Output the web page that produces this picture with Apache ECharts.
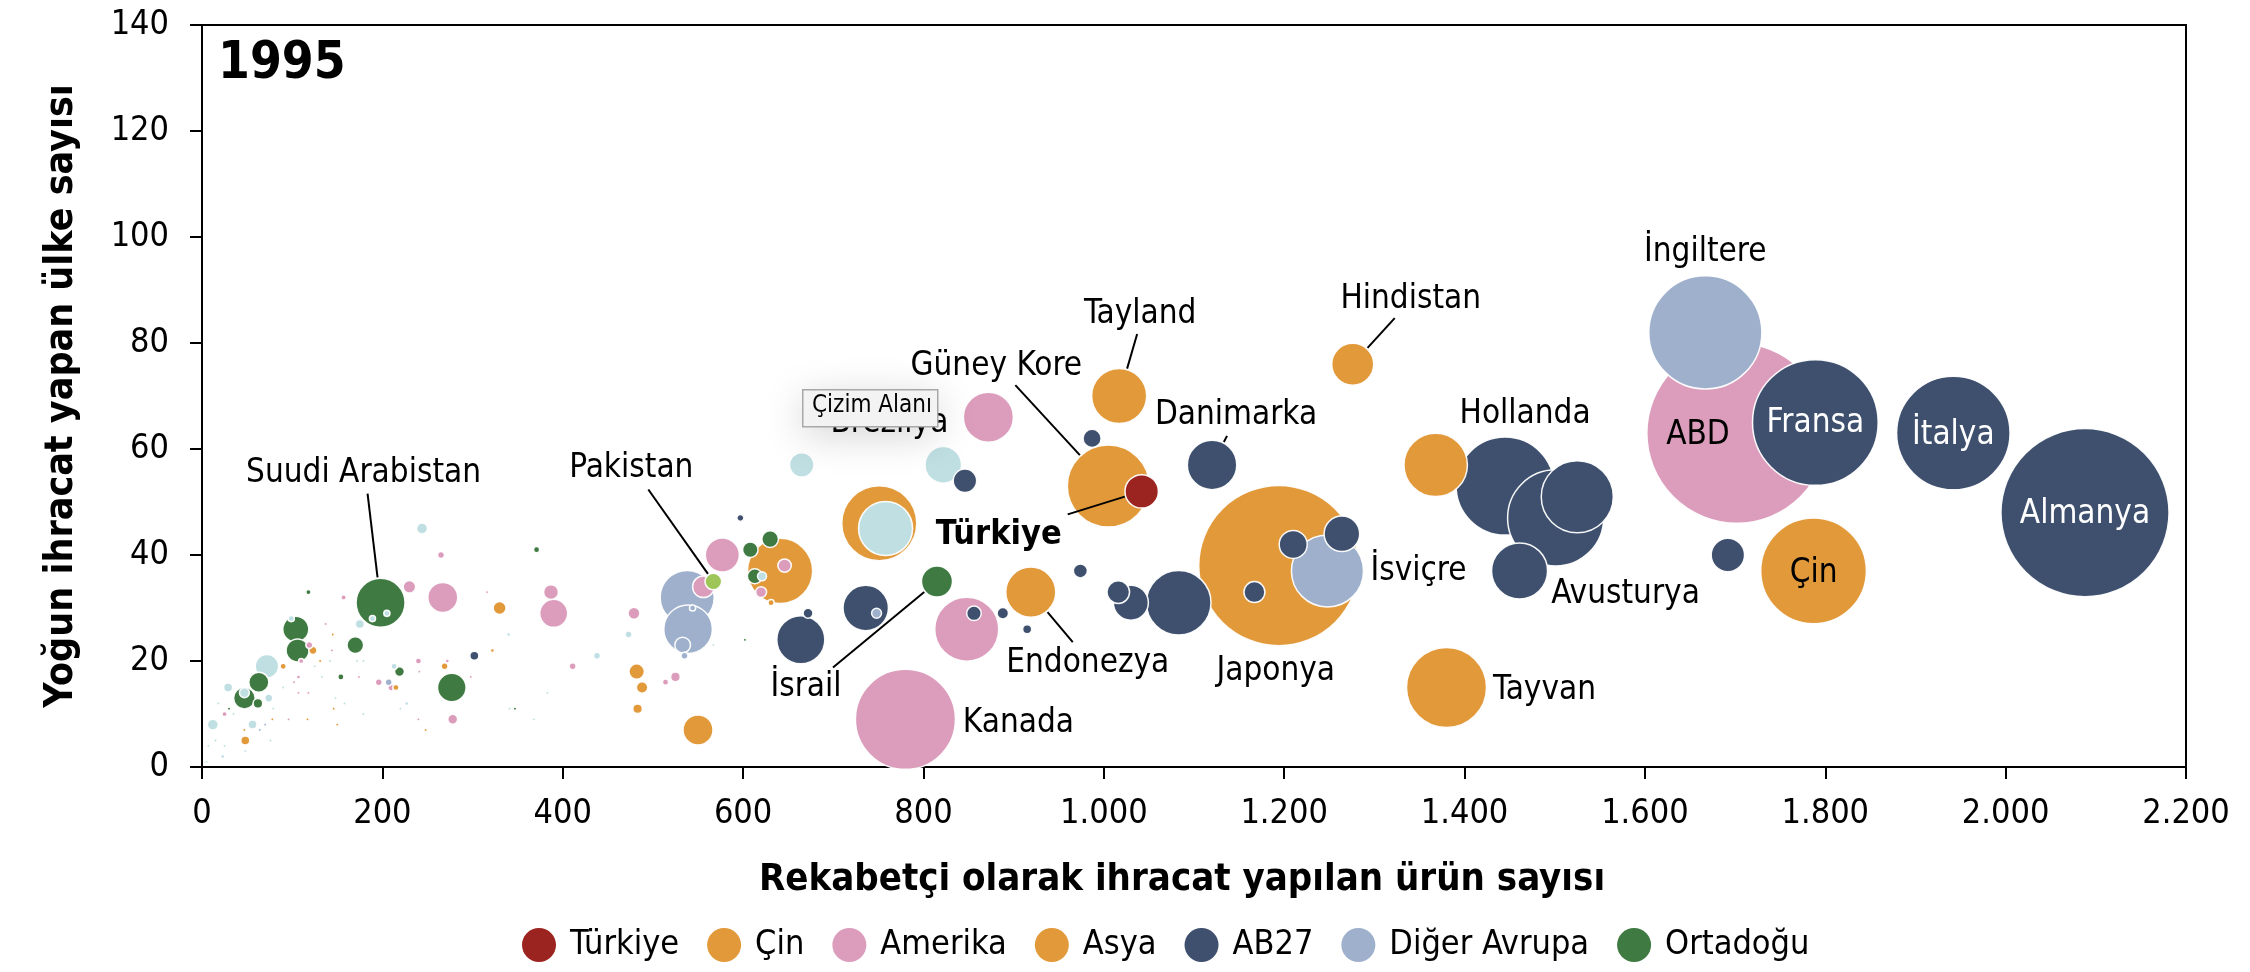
<!DOCTYPE html>
<html>
<head>
<meta charset="utf-8">
<script src="https://cdn.jsdelivr.net/npm/echarts@6/dist/echarts.min.js"></script>
<style>
  html, body { margin: 0; padding: 0; background: #fff; }
  #main { width: 2250px; height: 972px; }
</style>
</head>
<body>
<div id="main"></div>
<script>
// each point: [urun sayisi, ulke sayisi, ihracat (mlr $), etiket]
var turkiye = [[1042, 52, 20.5, 'Türkiye']];

var cin = [[1787, 37, 205, 'Çin']];

var asya = [
    [1005, 53, 123.6, 'Güney Kore'], [1017, 70, 55.6, 'Tayland'], [1276, 76, 32.4, 'Hindistan'],
    [1194, 38, 470.6, 'Japonya'], [1380, 15, 117.6, 'Tayvan'], [919, 33, 46, 'Endonezya'],
    [1368, 57, 73.9], [751, 46, 103.4], [641, 37, 78], [550, 7, 16.5], [482, 18, 4.4],
    [488, 15, 2.4], [483, 11, 1.7], [631, 31, 0.7], [330, 30, 3.1], [48, 5, 1.5],
    [269, 19, 0.9], [123, 22, 1.2], [90, 19, 0.7], [215, 15, 0.7], [322, 22, 0.3],
    [145, 25, 0.2], [131, 20, 0.2], [248, 7, 0.2], [150, 8, 0.2], [117, 9, 0.2],
    [78, 9, 0.2], [47, 7, 0.2], [146, 11, 0.2]
];

var amerika = [
    [1702, 63, 595.6, 'ABD'], [780, 9, 183.8, 'Kanada'], [872, 66, 46, 'Brezilya'],
    [848, 26, 75.3], [577, 40, 21.3], [556, 34, 8.6], [646, 38, 3.3], [620, 33, 2.2],
    [267, 32, 16.5], [390, 29, 14.4], [387, 33, 4.1], [230, 34, 2.9], [265, 40, 0.9],
    [479, 29, 2.6], [411, 19, 0.9], [525, 17, 1.7], [514, 16, 0.7], [278, 9, 1.8],
    [157, 32, 0.5], [119, 23, 0.9], [196, 16, 0.9], [210, 15, 0.9], [240, 20, 0.7],
    [110, 20, 0.5], [107, 17, 0.3], [25, 10, 0.5], [272, 20, 0.3], [316, 33, 0.2],
    [137, 27, 0.2], [144, 22, 0.2], [174, 17, 0.2], [241, 18, 0.2], [298, 17, 0.2],
    [240, 9, 0.2], [96, 9, 0.2], [107, 14, 0.2], [118, 14, 0.2], [102, 16, 0.2]
];

var ab27 = [
    [2088, 48, 518.8, 'Almanya'], [1789, 65, 290, 'Fransa'], [1942, 63, 236.4, 'İtalya'],
    [1445, 53, 176.5, 'Hollanda'], [1501, 47, 169.4], [1525, 51, 95.3],
    [1461, 37, 57.6, 'Avusturya'], [1120, 57, 44.9, 'Danimarka'], [1692, 40, 20.5],
    [1083, 31, 76.7], [1030, 31, 22.5], [1016, 33, 9.4], [1264, 44, 23.3], [1210, 42, 14.4],
    [1167, 33, 8.1], [987, 62, 6], [846, 54, 10.1], [736, 30, 37.9], [664, 24, 42.4],
    [672, 29, 1.8], [856, 29, 3.9], [888, 29, 2.4], [915, 26, 1.5], [974, 37, 3.6],
    [597, 47, 0.9], [302, 21, 1.5]
];

var digerAvrupa = [
    [1667, 82, 234.7, 'İngiltere'], [1248, 37, 95.3, 'İsviçre'], [538, 32, 53.6],
    [539, 26, 43.4], [533, 23, 4.5], [535, 21, 0.9], [748, 29, 1.8], [544, 30, 0.7],
    [207, 16, 0.9], [70, 8, 0.2], [64, 7, 0.2]
];

var ortadogu = [
    [198, 31, 44.1, 'Suudi Arabistan'], [815, 35, 17.7, 'İsrail'], [277, 15, 15],
    [104, 26, 12.4], [106, 22, 9.7], [63, 16, 7.4], [47, 13, 8.6], [62, 12, 1.7],
    [170, 23, 5.1], [630, 43, 5.1], [608, 41, 4.4], [613, 36, 4.1], [219, 18, 1.8],
    [154, 17, 0.7], [118, 33, 0.5], [371, 41, 0.7], [347, 11, 0.2], [30, 11, 0.2],
    [602, 24, 0.2]
];

var pakistan = [[567, 35, 5.1, 'Pakistan']];

var diger = [
    [758, 45, 53.6], [822, 57, 24.6], [665, 57, 10.9], [621, 36, 1.5], [72, 19, 10.1],
    [244, 45, 2.2], [175, 27, 1.5], [29, 15, 1.5], [74, 13, 1.2], [12, 8, 2.2],
    [56, 8, 1.5], [99, 28, 0.7], [473, 25, 0.9], [438, 21, 0.9], [213, 19, 0.7],
    [340, 25, 0.3], [19, 12, 0.3], [227, 12, 0.3], [47, 14, 1.8], [189, 28, 0.7],
    [205, 29, 0.7], [5, 1, 0.2], [23, 2, 0.3], [142, 20, 0.2], [172, 20, 0.2],
    [179, 20, 0.2], [125, 19, 0.2], [133, 17, 0.2], [383, 14, 0.2], [368, 9, 0.2],
    [341, 11, 0.2], [220, 11, 0.2], [179, 10, 0.2], [15, 5, 0.2], [25, 4, 0.2],
    [48, 3, 0.2], [76, 5, 0.2], [148, 13, 0.2], [158, 12, 0.2], [90, 15, 0.2],
    [79, 11, 0.2], [35, 10, 0.2], [18, 12, 0.2], [7, 4, 0.2], [567, 23, 0.2]
];

var legendNames = ['Türkiye', 'Çin', 'Amerika', 'Asya', 'AB27', 'Diğer Avrupa', 'Ortadoğu'];
var xTicks = [0, 200, 400, 600, 800, 1000, 1200, 1400, 1600, 1800, 2000, 2200];
var yTicks = [0, 20, 40, 60, 80, 100, 120, 140];

var groups = [
    { name: 'Türkiye', color: '#9c2420', data: turkiye },
    { name: 'Çin', color: '#e2993a', data: cin },
    { name: 'Amerika', color: '#dc9dbc', data: amerika },
    { name: 'Asya', color: '#e2993a', data: asya },
    { name: 'AB27', color: '#3e506e', data: ab27 },
    { name: 'Diğer Avrupa', color: '#9eb0cc', data: digerAvrupa },
    { name: 'Ortadoğu', color: '#3e7a41', data: ortadogu },
    { name: 'Pakistan', color: '#9dc558', data: pakistan },
    { name: 'Diğer', color: '#bfdfe3', data: diger }
];

// label offset from bubble centre (px); optional 3rd/4th = leader line anchor from label centre
var labelPos = {
    'Suudi Arabistan': [-17, -129, 4, 20],
    'Pakistan': [-82, -113, 17, 21],
    'Brezilya': [-99, 6],
    'Güney Kore': [-112, -120, 19, 19],
    'Tayland': [21, -82, -3, 20],
    'Hindistan': [58, -65, -16, 19],
    'Danimarka': [24, -49, -9, 20],
    'Türkiye': [-143, 44, 69, -21],
    'İsrail': [-131, 106, 27, -20],
    'Endonezya': [57, 71, -15, -21],
    'Kanada': [113, 4],
    'Japonya': [-3, 106],
    'İsviçre': [91, 1],
    'Hollanda': [20, -72],
    'Avusturya': [106, 24],
    'Tayvan': [98, 3],
    'İngiltere': [0, -80],
    'ABD': [-39, 2],
    'Fransa': [0, 1],
    'İtalya': [0, 2],
    'Almanya': [0, 2],
    'Çin': [0, 3]
};
var whiteLabels = ['Fransa', 'İtalya', 'Almanya'];

var FONT = "'DejaVu Sans Condensed', 'DejaVu Sans', sans-serif";
var SIZE_SCALE = 7.38;   // bubble diameter = SIZE_SCALE * sqrt(ihracat)

function fmtThousand(v) {
    return String(v).replace(/\B(?=(\d{3})+(?!\d))/g, '.');
}

function allPoints() {
    var pts = [];
    groups.forEach(function (g) {
        g.data.forEach(function (d) { pts.push({ g: g, d: d }); });
    });
    // big ones first so the small ones stay visible on top
    pts.sort(function (a, b) { return b.d[2] - a.d[2]; });
    return pts;
}

function buildBubbles(pts) {
    return pts.map(function (p) {
        var name = p.d[3] || '';
        var item = {
            name: name,
            value: [p.d[0], p.d[1], p.d[2]],
            itemStyle: { color: p.g.color }
        };
        var lp = labelPos[name];
        if (lp) {
            var bold = name === 'Türkiye';
            item.label = {
                show: true,
                position: 'inside',
                offset: [lp[0], lp[1]],
                formatter: '{b}',
                fontSize: bold ? 34 : 33,
                fontFamily: FONT,
                fontWeight: bold ? 'bold' : 'normal',
                color: whiteLabels.indexOf(name) >= 0 ? '#fff' : '#000'
            };
        }
        return item;
    });
}

function buildLeaders(pts) {
    var out = [];
    pts.forEach(function (p) {
        var lp = labelPos[p.d[3]];
        if (lp && lp.length > 2) {
            out.push({ name: p.d[3], value: [p.d[0], p.d[1], p.d[2]] });
        }
    });
    return out;
}

function renderLeader(params, api) {
    var name = leaders[params.dataIndex].name;
    var lp = labelPos[name];
    var c = api.coord([api.value(0), api.value(1)]);
    var r = SIZE_SCALE * Math.sqrt(api.value(2)) / 2 + 1;
    var ax = c[0] + lp[0] + lp[2];
    var ay = c[1] + lp[1] + lp[3];
    var dx = ax - c[0], dy = ay - c[1];
    var d = Math.sqrt(dx * dx + dy * dy);
    return {
        type: 'line',
        shape: { x1: ax, y1: ay, x2: c[0] + dx / d * r, y2: c[1] + dy / d * r },
        style: { stroke: '#000', lineWidth: 2 }
    };
}

var points = allPoints();
var leaders = buildLeaders(points);

function initChart() {
    var chart = echarts.init(document.getElementById('main'));

    var series = [{
        name: 'bubbles',
        type: 'scatter',
        data: buildBubbles(points),
        symbol: 'circle',
        symbolSize: function (v) { return SIZE_SCALE * Math.sqrt(v[2]); },
        itemStyle: { borderColor: 'rgba(255,255,255,0.95)', borderWidth: 1.5, opacity: 1 },
        label: { show: false },
        emphasis: { disabled: true },
        z: 2
    }, {
        name: 'leaders',
        type: 'custom',
        data: leaders,
        renderItem: renderLeader,
        silent: true,
        z: 3
    }];
    // empty series only for the legend
    groups.forEach(function (g) {
        if (legendNames.indexOf(g.name) >= 0) {
            series.push({ name: g.name, type: 'scatter', data: [], itemStyle: { color: g.color, opacity: 1 } });
        }
    });

    var option = {
        animation: false,
        textStyle: { fontFamily: FONT },
        grid: { left: 202, right: 64, top: 25, bottom: 205, show: true, borderColor: '#000', borderWidth: 2 },
        xAxis: {
            type: 'value',
            min: xTicks[0], max: xTicks[xTicks.length - 1], interval: 200,
            name: 'Rekabetçi olarak ihracat yapılan ürün sayısı',
            nameLocation: 'middle', nameGap: 94,
            nameTextStyle: { fontSize: 38, fontWeight: 'bold', color: '#000', fontFamily: FONT, padding: [0, 24, 0, 0] },
            axisLine: { lineStyle: { color: '#000', width: 2 } },
            axisTick: { show: true, length: 12, lineStyle: { color: '#000', width: 2 } },
            axisLabel: { fontSize: 34, color: '#000', margin: 30, fontFamily: FONT, formatter: fmtThousand },
            splitLine: { show: false }
        },
        yAxis: {
            type: 'value',
            min: yTicks[0], max: yTicks[yTicks.length - 1], interval: 20,
            name: 'Yoğun ihracat yapan ülke sayısı',
            nameLocation: 'middle', nameGap: 121,
            nameTextStyle: { fontSize: 39, fontWeight: 'bold', color: '#000', fontFamily: FONT },
            axisLine: { lineStyle: { color: '#000', width: 2 } },
            axisTick: { show: true, length: 12, lineStyle: { color: '#000', width: 2 } },
            axisLabel: { fontSize: 34, color: '#000', margin: 33, fontFamily: FONT },
            splitLine: { show: false }
        },
        legend: {
            data: legendNames,
            left: 517, top: 923,
            icon: 'circle', itemWidth: 34, itemHeight: 34, itemGap: 28,
            textStyle: { fontSize: 34, color: '#000', fontFamily: FONT, padding: [0, 0, 0, 9] },
            selectedMode: false
        },
        graphic: [
            {
                type: 'text', left: 218, top: 39, z: 10,
                style: { text: '1995', font: 'bold 51px ' + FONT, fill: '#000' }
            },
            {
                type: 'rect', left: 802, top: 389, z: 100,
                shape: { x: 0, y: 0, width: 135, height: 37 },
                style: { fill: '#f4f4f4', stroke: '#a8a8a8', lineWidth: 1.5,
                         shadowBlur: 40, shadowColor: 'rgba(0,0,0,0.18)', shadowOffsetY: 8 }
            },
            {
                type: 'text', left: 812, top: 394, z: 101,
                style: { text: 'Çizim Alanı', font: '24px ' + FONT, fill: '#000' }
            }
        ],
        series: series
    };

    chart.setOption(option);
}

initChart();
</script>
</body>
</html>
